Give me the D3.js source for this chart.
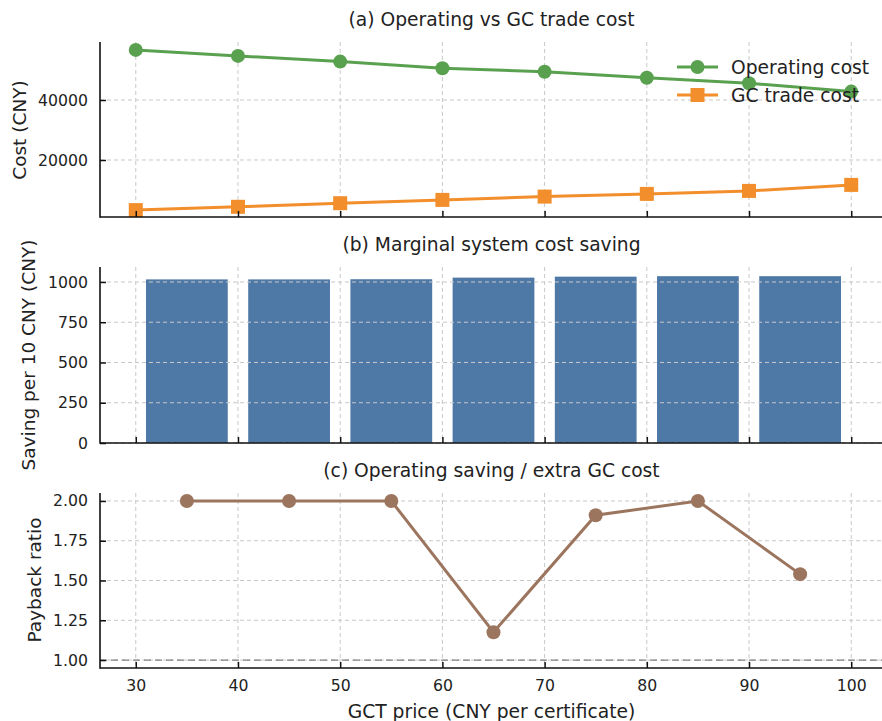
<!DOCTYPE html>
<html>
<head>
<meta charset="utf-8">
<script src="https://cdn.jsdelivr.net/npm/d3@7"></script>
<style>
  body { margin: 0; background: #ffffff; }
  svg { display: block; font-family: "DejaVu Sans", sans-serif; }
</style>
</head>
<body>
<svg id="chart" width="882" height="721"></svg>
<script>
// ---- data ----
const gctPrices = [30, 40, 50, 60, 70, 80, 90, 100];
const operatingCost = [56700, 54700, 52800, 50600, 49400, 47400, 45600, 42800];
const gcTradeCost = [3300, 4400, 5600, 6700, 7800, 8700, 9700, 11700];
const midPrices = [35, 45, 55, 65, 75, 85, 95];
const savingPer10 = [1016, 1016, 1017, 1027, 1033, 1036, 1036];
const paybackRatio = [2.0, 2.0, 2.0, 1.175, 1.91, 2.0, 1.54];
const xTicks = [30, 40, 50, 60, 70, 80, 90, 100];
const costTicks = [20000, 40000];
const savingTicks = [0, 250, 500, 750, 1000];
const ratioTicks = [1.00, 1.25, 1.50, 1.75, 2.00];
const titles = ["(a) Operating vs GC trade cost", "(b) Marginal system cost saving", "(c) Operating saving / extra GC cost"];
const seriesNames = ["Operating cost", "GC trade cost"];

const colors = { green: "#59a14f", orange: "#f28e2b", blue: "#4e79a7", brown: "#9c755f" };
const textColor = "#222222";

const svg = d3.select("#chart");
const left = 100, right = 887;
const x = d3.scaleLinear().domain([26.5, 103.5]).range([left, right]);

const panels = [
  { top: 42, bottom: 217 },
  { top: 267, bottom: 443 },
  { top: 493, bottom: 668 }
];

const yA = d3.scaleLinear().domain([1000, 59333]).range([panels[0].bottom, panels[0].top]);
const yB = d3.scaleLinear().domain([0, 1093]).range([panels[1].bottom, panels[1].top]);
const yC = d3.scaleLinear().domain([0.95, 2.05]).range([panels[2].bottom, panels[2].top]);

const LW = 3, R = 7, SQ = 14;

function drawGrid(y, ticks, p) {
  const g = svg.append("g");
  g.selectAll("line.gx").data(xTicks).join("line")
    .attr("x1", d => x(d)).attr("x2", d => x(d))
    .attr("y1", p.top).attr("y2", p.bottom)
    .attr("stroke", "#c8c8c8").attr("stroke-width", 1).attr("stroke-dasharray", "4,3");
  g.selectAll("line.gy").data(ticks).join("line")
    .attr("x1", left).attr("x2", right)
    .attr("y1", d => y(d)).attr("y2", d => y(d))
    .attr("stroke", "#c8c8c8").attr("stroke-width", 1).attr("stroke-dasharray", "4,3");
}

function drawAxes(y, ticks, fmt, p, showXLabels) {
  const ax = svg.append("g").attr("transform", `translate(0,${p.bottom})`)
    .call(d3.axisBottom(x).tickValues(xTicks).tickSizeInner(-6).tickSizeOuter(0).tickPadding(12)
      .tickFormat(showXLabels ? d3.format("d") : () => ""));
  ax.select(".domain").remove();
  ax.selectAll(".tick line").attr("stroke", "#111").attr("stroke-width", 1.5);
  ax.selectAll("text").attr("font-size", "15.7px").attr("fill", textColor).attr("font-family", "DejaVu Sans");

  const ay = svg.append("g").attr("transform", `translate(${left},0)`)
    .call(d3.axisLeft(y).tickValues(ticks).tickSizeInner(-6).tickSizeOuter(0).tickPadding(12).tickFormat(fmt));
  ay.select(".domain").remove();
  ay.selectAll(".tick line").attr("stroke", "#111").attr("stroke-width", 1.5);
  ay.selectAll("text").attr("font-size", "15.7px").attr("fill", textColor).attr("font-family", "DejaVu Sans");

  svg.append("line").attr("x1", left).attr("x2", left).attr("y1", p.top).attr("y2", p.bottom + 0.75)
    .attr("stroke", "#111").attr("stroke-width", 1.6);
  svg.append("line").attr("x1", left).attr("x2", right).attr("y1", p.bottom).attr("y2", p.bottom)
    .attr("stroke", "#111").attr("stroke-width", 1.6);
}

function title(text, p) {
  svg.append("text").attr("x", (left + right) / 2 - 2).attr("y", p.top - 16)
    .attr("text-anchor", "middle").attr("font-size", "18.7px").attr("fill", textColor).text(text);
}

function ylabel(text, cx, cy) {
  svg.append("text").attr("transform", `translate(${cx},${cy}) rotate(-90)`)
    .attr("text-anchor", "middle").attr("font-size", "18.5px").attr("fill", textColor).text(text);
}

// ---- panel (a) ----
drawGrid(yA, costTicks, panels[0]);
const lineA = d3.line().x((d, i) => x(gctPrices[i])).y(d => yA(d));
svg.append("path").datum(operatingCost).attr("d", lineA).attr("fill", "none")
  .attr("stroke", colors.green).attr("stroke-width", LW);
svg.selectAll("circle.op").data(operatingCost).join("circle")
  .attr("cx", (d, i) => x(gctPrices[i])).attr("cy", d => yA(d)).attr("r", R).attr("fill", colors.green);
svg.append("path").datum(gcTradeCost).attr("d", lineA).attr("fill", "none")
  .attr("stroke", colors.orange).attr("stroke-width", LW);
svg.selectAll("rect.gc").data(gcTradeCost).join("rect")
  .attr("x", (d, i) => x(gctPrices[i]) - SQ / 2).attr("y", d => yA(d) - SQ / 2)
  .attr("width", SQ).attr("height", SQ).attr("fill", colors.orange);
drawAxes(yA, costTicks, d3.format("d"), panels[0], false);
title(titles[0], panels[0]);
ylabel("Cost (CNY)", 26, 130);

// legend
const lg = svg.append("g");
const legY = [67, 95];
lg.selectAll("line.l").data(seriesNames).join("line")
  .attr("x1", 677).attr("x2", 718).attr("y1", (d, i) => legY[i]).attr("y2", (d, i) => legY[i])
  .attr("stroke", (d, i) => i === 0 ? colors.green : colors.orange).attr("stroke-width", LW);
lg.append("circle").attr("cx", 697.5).attr("cy", legY[0]).attr("r", R).attr("fill", colors.green);
lg.append("rect").attr("x", 697.5 - SQ / 2).attr("y", legY[1] - SQ / 2).attr("width", SQ).attr("height", SQ).attr("fill", colors.orange);
lg.selectAll("text").data(seriesNames).join("text")
  .attr("x", 731).attr("y", (d, i) => legY[i] + 6.5)
  .attr("font-size", "18.7px").attr("fill", textColor).text(d => d);

// ---- panel (b) ----
const barW = x(8) - x(0);
svg.selectAll("rect.bar").data(savingPer10).join("rect")
  .attr("x", (d, i) => x(midPrices[i]) - barW / 2).attr("width", barW)
  .attr("y", d => yB(d)).attr("height", d => yB(0) - yB(d)).attr("fill", colors.blue);
drawGrid(yB, savingTicks, panels[1]);
drawAxes(yB, savingTicks, d3.format("d"), panels[1], false);
title(titles[1], panels[1]);
ylabel("Saving per 10 CNY (CNY)", 35, 355);

// ---- panel (c) ----
drawGrid(yC, ratioTicks, panels[2]);
svg.append("line").attr("x1", left).attr("x2", right).attr("y1", yC(1)).attr("y2", yC(1))
  .attr("stroke", "#808080").attr("stroke-width", 1.3).attr("stroke-dasharray", "7,4");
const lineC = d3.line().x((d, i) => x(midPrices[i])).y(d => yC(d));
svg.append("path").datum(paybackRatio).attr("d", lineC).attr("fill", "none")
  .attr("stroke", colors.brown).attr("stroke-width", LW);
svg.selectAll("circle.pr").data(paybackRatio).join("circle")
  .attr("cx", (d, i) => x(midPrices[i])).attr("cy", d => yC(d)).attr("r", R).attr("fill", colors.brown);
drawAxes(yC, ratioTicks, d3.format(".2f"), panels[2], true);
title(titles[2], panels[2]);
ylabel("Payback ratio", 41, 580);
svg.append("text").attr("x", (left + right) / 2 - 2).attr("y", 718)
  .attr("text-anchor", "middle").attr("font-size", "18.7px").attr("fill", textColor)
  .text("GCT price (CNY per certificate)");
</script>
</body>
</html>
